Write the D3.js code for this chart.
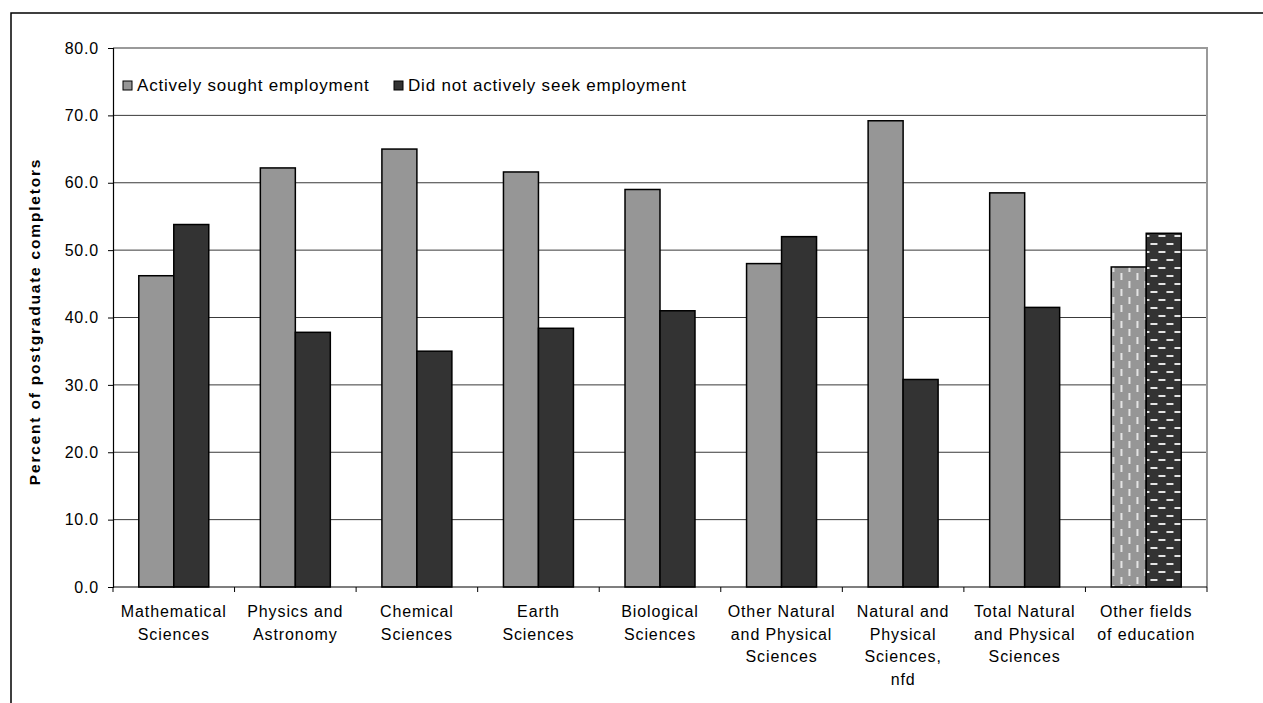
<!DOCTYPE html>
<html>
<head>
<meta charset="utf-8">
<script src="https://cdn.jsdelivr.net/npm/d3@7/dist/d3.min.js"></script>
<style>
  html, body { margin: 0; padding: 0; background: #fff; }
  svg { display: block; font-family: Arial, "Liberation Sans", sans-serif; }
</style>
</head>
<body>
<script>
// Field-of-education categories (each label split into its display lines)
const categories = [
  ["Mathematical", "Sciences"],
  ["Physics and", "Astronomy"],
  ["Chemical", "Sciences"],
  ["Earth", "Sciences"],
  ["Biological", "Sciences"],
  ["Other Natural", "and Physical", "Sciences"],
  ["Natural and", "Physical", "Sciences,", "nfd"],
  ["Total Natural", "and Physical", "Sciences"],
  ["Other fields", "of education"]
];
const seriesNames = ["Actively sought employment", "Did not actively seek employment"];
const soughtValues = [46.2, 62.2, 65.0, 61.6, 59.0, 48.0, 69.2, 58.5, 47.5];
const notSoughtValues = [53.8, 37.8, 35.0, 38.4, 41.0, 52.0, 30.8, 41.5, 52.5];
const yTicks = [0, 10, 20, 30, 40, 50, 60, 70, 80];
const yTitle = "Percent of postgraduate completors";

const W = 1263, H = 703;
const plot = { left: 113, right: 1207, top: 48, bottom: 587 };
const colors = ["#969696", "#333333"];

const svg = d3.select("body").append("svg").attr("width", W).attr("height", H);

// Hatch patterns used for the "Other fields of education" comparison bars
const defs = svg.append("defs");
const pv = defs.append("pattern").attr("id", "pat-vert").attr("patternUnits", "userSpaceOnUse")
  .attr("width", 16).attr("height", 16);
pv.append("rect").attr("width", 16).attr("height", 16).attr("fill", colors[0]);
pv.append("rect").attr("x", 3).attr("y", 1).attr("width", 2).attr("height", 7).attr("fill", "#e4e4e4");
pv.append("rect").attr("x", 11).attr("y", 9).attr("width", 2).attr("height", 7).attr("fill", "#e4e4e4");
const ph = defs.append("pattern").attr("id", "pat-horiz").attr("patternUnits", "userSpaceOnUse")
  .attr("width", 16).attr("height", 16);
ph.append("rect").attr("width", 16).attr("height", 16).attr("fill", colors[1]);
ph.append("rect").attr("x", 1).attr("y", 3).attr("width", 7).attr("height", 2).attr("fill", "#e4e4e4");
ph.append("rect").attr("x", 9).attr("y", 11).attr("width", 7).attr("height", 2).attr("fill", "#e4e4e4");

// Outer chart frame
svg.append("rect").attr("x", 11).attr("y", 13).attr("width", W + 10).attr("height", H + 10)
  .attr("fill", "none").attr("stroke", "#000").attr("stroke-width", 1.5);

const catIdx = categories.map((d, i) => i);
const x0 = d3.scaleBand().domain(catIdx).range([plot.left, plot.right]).padding(0);
const x1 = d3.scaleBand().domain([0, 1]).range([0, x0.bandwidth()]).paddingInner(0).paddingOuter(0.737);
const y = d3.scaleLinear().domain([0, 80]).range([plot.bottom, plot.top]);

// Horizontal gridlines
svg.append("g").selectAll("line").data(yTicks.filter(t => t > 0 && t < 80)).join("line")
  .attr("x1", plot.left).attr("x2", plot.right)
  .attr("y1", d => y(d)).attr("y2", d => y(d))
  .attr("stroke", "#3a3a3a").attr("stroke-width", 1);

// Plot area frame (top and right edges)
svg.append("path")
  .attr("d", `M${plot.left},${y(80)}H${plot.right}V${plot.bottom}`)
  .attr("fill", "none").attr("stroke", "#9a9a9a").attr("stroke-width", 2);

// Bars
const seriesVals = [soughtValues, notSoughtValues];
const groups = svg.append("g").selectAll("g").data(catIdx).join("g")
  .attr("transform", d => `translate(${x0(d)},0)`);
groups.selectAll("rect").data(i => [0, 1].map(s => ({ s, v: seriesVals[s][i], last: i === categories.length - 1 })))
  .join("rect")
  .attr("x", d => x1(d.s))
  .attr("width", x1.bandwidth())
  .attr("y", d => y(d.v))
  .attr("height", d => y(0) - y(d.v))
  .attr("fill", d => d.last ? (d.s === 0 ? "url(#pat-vert)" : "url(#pat-horiz)") : colors[d.s])
  .attr("stroke", "#000").attr("stroke-width", 1.5);

// Y axis
const yAxis = svg.append("g").attr("transform", `translate(${plot.left},0)`)
  .call(d3.axisLeft(y).tickValues(yTicks).tickFormat(d3.format(".1f")).tickSize(5).tickPadding(9));
yAxis.select(".domain").attr("stroke", "#000").attr("stroke-width", 1.2);
yAxis.selectAll(".tick line").attr("stroke", "#000");
yAxis.selectAll(".tick text").attr("font-size", 16).attr("fill", "#000")
  .attr("font-family", "Arial, 'Liberation Sans', sans-serif").style("letter-spacing", "0.8px");

// X axis with ticks at category boundaries
const xg = svg.append("g");
xg.append("line").attr("x1", plot.left).attr("x2", plot.right)
  .attr("y1", plot.bottom).attr("y2", plot.bottom).attr("stroke", "#000").attr("stroke-width", 1.2);
const bounds = catIdx.map(i => x0(i)).concat([plot.right]);
xg.selectAll("line.tk").data(bounds).join("line").attr("class", "tk")
  .attr("x1", d => d).attr("x2", d => d)
  .attr("y1", plot.bottom).attr("y2", plot.bottom + 5).attr("stroke", "#000");

// Category labels
const lab = svg.append("g").selectAll("text").data(catIdx).join("text")
  .attr("text-anchor", "middle").attr("font-size", 16).attr("fill", "#000")
  .style("letter-spacing", "0.9px");
lab.selectAll("tspan").data(i => categories[i].map(l => ({ l, i }))).join("tspan")
  .attr("x", d => x0(d.i) + x0.bandwidth() / 2)
  .attr("y", (d, k) => 617 + k * 22.5)
  .text(d => d.l);

// Y axis title
svg.append("text")
  .attr("transform", `translate(40,${(plot.top + plot.bottom) / 2 + 4}) rotate(-90)`)
  .attr("text-anchor", "middle").attr("font-size", 15.5).attr("font-weight", "bold")
  .style("letter-spacing", "1.8px")
  .text(yTitle);

// Legend
const legendItems = [{ name: seriesNames[0], x: 123 }, { name: seriesNames[1], x: 394 }];
const lg = svg.append("g").selectAll("g").data(legendItems).join("g")
  .attr("transform", d => `translate(${d.x},85)`);
lg.append("rect").attr("x", 0).attr("y", -4).attr("width", 9).attr("height", 9)
  .attr("fill", (d, i) => colors[i]).attr("stroke", "#000").attr("stroke-width", 1);
lg.append("text").attr("x", 14).attr("y", 6).attr("font-size", 17).attr("fill", "#000")
  .style("letter-spacing", "0.8px")
  .text(d => d.name);
</script>
</body>
</html>
